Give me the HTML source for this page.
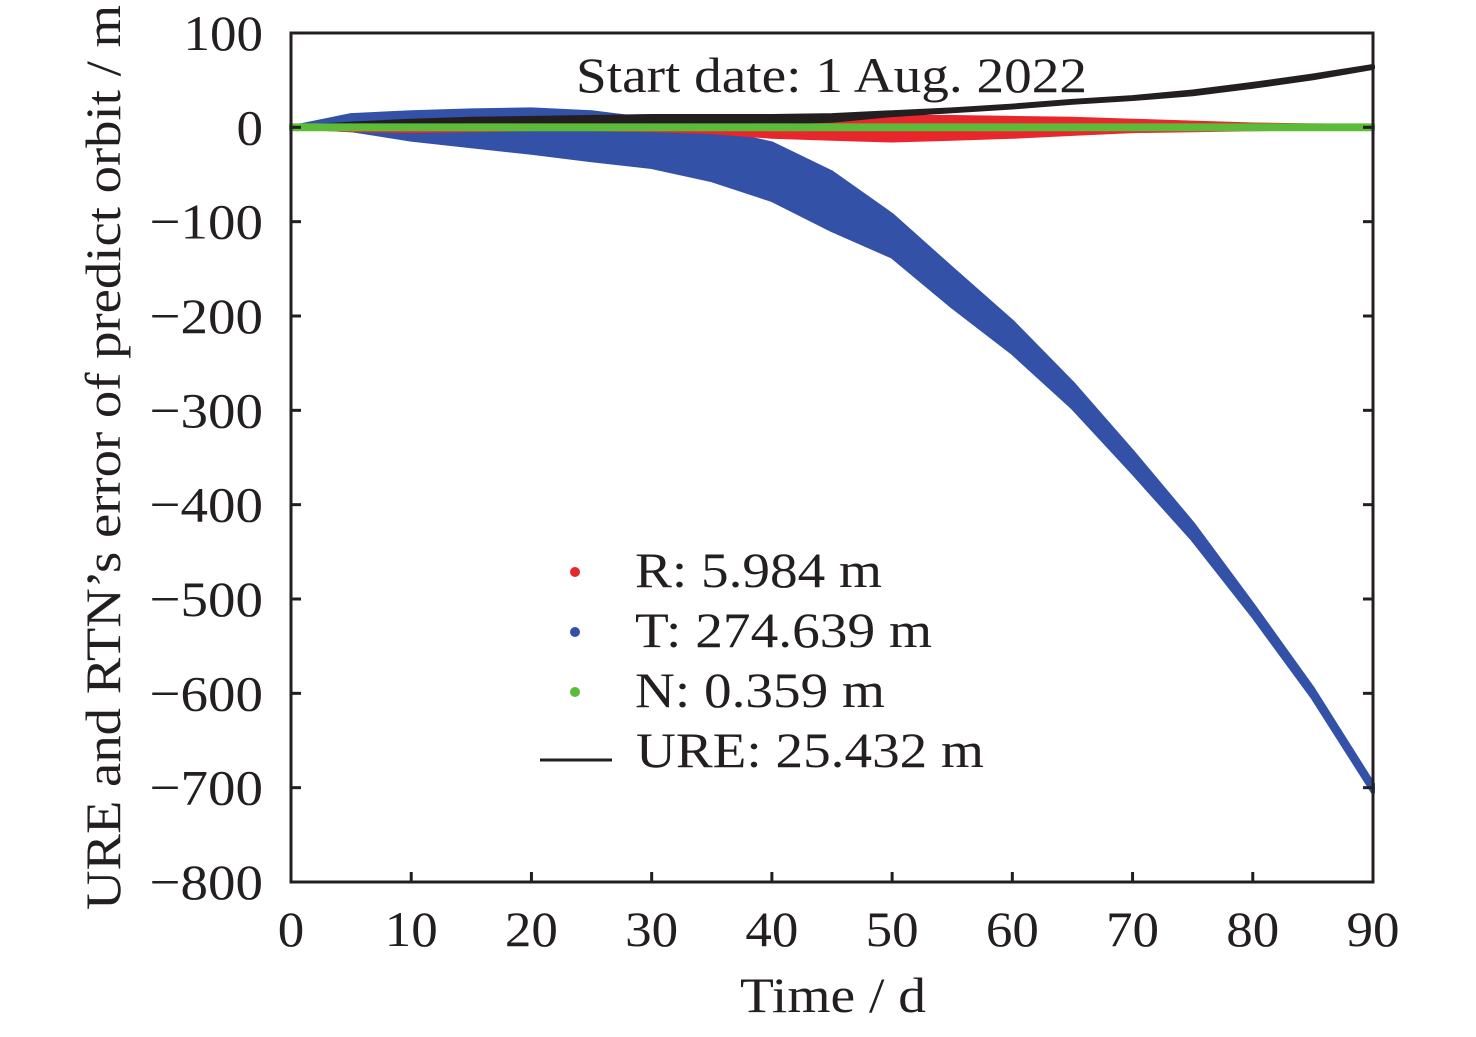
<!DOCTYPE html>
<html><head><meta charset="utf-8"><style>
html,body{margin:0;padding:0;background:#fff;}
svg text{font-family:"Liberation Serif",serif;fill:#231f20;}
</style></head><body>
<svg id="chart" width="1476" height="1032" viewBox="0 0 1476 1032" xmlns="http://www.w3.org/2000/svg">
<g id="series"></g>
<rect x="291" y="33" width="1082" height="849" fill="none" stroke="#231f20" stroke-width="3"/>
<g id="axes"></g>
<text x="576" y="92" font-size="50" textLength="511" lengthAdjust="spacingAndGlyphs">Start date: 1 Aug. 2022</text>
<text x="740" y="1012" font-size="50" textLength="186" lengthAdjust="spacingAndGlyphs">Time / d</text>
<text transform="translate(120,910) rotate(-90)" font-size="50" textLength="905" lengthAdjust="spacingAndGlyphs">URE and RTN’s error of predict orbit / m</text>
<g>
<circle cx="575" cy="572" r="5" fill="#e8262b"/>
<text x="635" y="587" font-size="50" textLength="247" lengthAdjust="spacingAndGlyphs">R: 5.984 m</text>
<circle cx="575" cy="632" r="5" fill="#3451a8"/>
<text x="635" y="647" font-size="50" textLength="297" lengthAdjust="spacingAndGlyphs">T: 274.639 m</text>
<circle cx="575" cy="692" r="5" fill="#5dbb3a"/>
<text x="635" y="707" font-size="50" textLength="250" lengthAdjust="spacingAndGlyphs">N: 0.359 m</text>
<line x1="540" y1="760" x2="612" y2="760" stroke="#231f20" stroke-width="3"/>
<text x="636" y="767" font-size="50" textLength="348" lengthAdjust="spacingAndGlyphs">URE: 25.432 m</text>
</g>
</svg>
<script>
const days = [0,5,10,15,20,25,30,35,40,45,50,55,60,65,70,75,80,85,90];
const tUpper = [0,13,16,18,19,16,8,-3,-17,-48,-93,-150,-206,-271,-344,-420,-506,-595,-696];
const tLower = [0,-3,-13,-20,-27,-35,-42,-56,-77,-109,-137,-190,-239,-297,-366,-437,-518,-605,-705];
const rUpper = [0,2,3,4,5,6,7,9,10,11,11,11,10,9,7,5,3,2,1.5];
const rLower = [0,-3,-4,-3,-2,-2,-3,-5,-10,-12,-14,-12,-10,-7,-4,-3,-2,-1.5,-1];
const ureUpper = [0,4,7,9,10,11,12,12,12,13,16,19,23,28,32,38,46,55,65];
const ureLower = [0,0,1,2,3,3,3,4,5,7,13,17,21,26,30,35,43,52,63];
const nUpper = [2,2,2,2,2,2,2,2,2,2,2,2,2,2,2,2,2,2,2];
const nLower = [-2,-2,-2,-2,-2,-2,-2,-2,-2,-2,-2,-2,-2,-2,-2,-2,-2,-2,-2];
const xTicks = [0,10,20,30,40,50,60,70,80,90];
const yTicks = [100,0,-100,-200,-300,-400,-500,-600,-700,-800];

const X0=291,X1=1373,Y0=33,Y1=882;
const xs = d => X0 + (d-0)/(90-0)*(X1-X0);
const ys = v => Y0 + (100-v)/(100-(-800))*(Y1-Y0);
const NS='http://www.w3.org/2000/svg';
const seriesG=document.getElementById('series');
const axesG=document.getElementById('axes');

function band(up, lo, color, name){
  let pts=[];
  for(let i=0;i<days.length;i++) pts.push(xs(days[i]).toFixed(1)+','+ys(up[i]).toFixed(1));
  for(let i=days.length-1;i>=0;i--) pts.push(xs(days[i]).toFixed(1)+','+ys(lo[i]).toFixed(1));
  const p=document.createElementNS(NS,'polygon');
  p.setAttribute('points',pts.join(' '));
  p.setAttribute('fill',color);
  p.setAttribute('stroke',color);
  p.setAttribute('stroke-width','4');
  p.setAttribute('stroke-linejoin','round');
  
  
  seriesG.appendChild(p);
}
band(tUpper,tLower,'#3451a8','t-error-band');
band(rUpper,rLower,'#e8262b','r-error-band');
band(ureUpper,ureLower,'#231f20','ure-band');
band(nUpper,nLower,'#5dbb3a','n-error-band');

function labelWidth(s){ let w=0; for(const c of s){ w += (c==='\u2212') ? 34 : 26.5; } return w; }

xTicks.forEach(t=>{
  const x=xs(t);
  const l=document.createElementNS(NS,'line');
  l.setAttribute('x1',x);l.setAttribute('x2',x);l.setAttribute('y1',Y1);l.setAttribute('y2',Y1-10);
  l.setAttribute('stroke','#231f20');l.setAttribute('stroke-width','3');
  
  
  axesG.appendChild(l);
  const s=String(t);
  const w=labelWidth(s);
  const tx=document.createElementNS(NS,'text');
  tx.setAttribute('x',x-w/2);tx.setAttribute('y',946);tx.setAttribute('font-size','50');
  tx.setAttribute('textLength',w);tx.setAttribute('lengthAdjust','spacingAndGlyphs');
  tx.textContent=s;
  
  
  axesG.appendChild(tx);
});
yTicks.forEach(t=>{
  const y=ys(t);
  [[X0,X0+10],[X1,X1-10]].forEach(a=>{
    const l=document.createElementNS(NS,'line');
    l.setAttribute('x1',a[0]);l.setAttribute('x2',a[1]);l.setAttribute('y1',y);l.setAttribute('y2',y);
    l.setAttribute('stroke','#231f20');l.setAttribute('stroke-width','3');
    
    
    axesG.appendChild(l);
  });
  const s=(t<0?'\u2212'+(-t):String(t));
  const w=labelWidth(s);
  const tx=document.createElementNS(NS,'text');
  tx.setAttribute('x',263-w);tx.setAttribute('y',y+17);tx.setAttribute('font-size','50');
  tx.setAttribute('textLength',w);tx.setAttribute('lengthAdjust','spacingAndGlyphs');
  tx.textContent=s;
  
  
  axesG.appendChild(tx);
});
</script>
</body></html>
